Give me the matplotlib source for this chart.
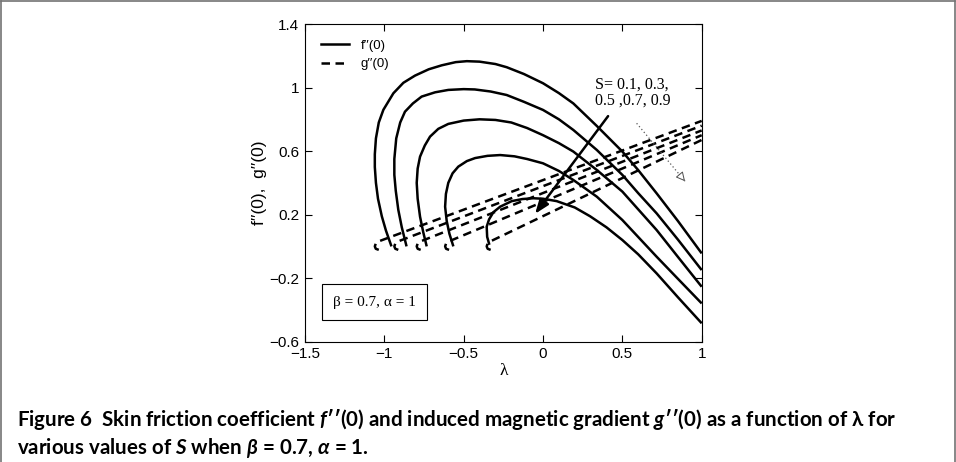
import matplotlib
matplotlib.use("Agg")
import matplotlib.pyplot as plt
from matplotlib.patches import Rectangle
from matplotlib.lines import Line2D

# ---------------- data ----------------
s_values = [0.1, 0.3, 0.5, 0.7, 0.9]

# f''(0) against lambda, traced from the lower branch end through the turning point
f_lam_01 = [-0.955, -0.990, -1.016, -1.040, -1.053, -1.060, -1.060, -1.053, -1.035, -1.006,
            -0.943, -0.880, -0.807, -0.720, -0.638, -0.550, -0.480, -0.400, -0.300, -0.229,
            -0.120, 0.000, 0.100, 0.191, 0.339, 0.500, 0.600, 0.716, 0.850, 1.000]
f_val_01 = [0.000, 0.100, 0.190, 0.300, 0.400, 0.500, 0.580, 0.680, 0.780, 0.860,
            0.964, 1.030, 1.075, 1.115, 1.140, 1.160, 1.166, 1.163, 1.148, 1.128,
            1.085, 1.027, 0.965, 0.900, 0.758, 0.597, 0.480, 0.334, 0.160, -0.044]

f_lam_03 = [-0.860, -0.890, -0.912, -0.928, -0.937, -0.937, -0.925, -0.900, -0.870, -0.820,
            -0.765, -0.680, -0.597, -0.500, -0.430, -0.330, -0.229, -0.120, 0.000, 0.100,
            0.191, 0.339, 0.500, 0.600, 0.716, 0.850, 1.000]
f_val_03 = [0.000, 0.120, 0.230, 0.350, 0.450, 0.550, 0.680, 0.780, 0.848, 0.900,
            0.943, 0.970, 0.985, 0.990, 0.988, 0.975, 0.953, 0.910, 0.859, 0.800,
            0.733, 0.607, 0.450, 0.335, 0.208, 0.043, -0.149]

f_lam_05 = [-0.733, -0.755, -0.775, -0.790, -0.796, -0.790, -0.775, -0.745, -0.712, -0.660,
            -0.597, -0.500, -0.400, -0.300, -0.200, -0.100, 0.000, 0.100, 0.191, 0.339,
            0.500, 0.600, 0.716, 0.850, 1.000]
f_val_05 = [0.000, 0.090, 0.187, 0.300, 0.400, 0.490, 0.565, 0.635, 0.691, 0.740,
            0.771, 0.792, 0.800, 0.796, 0.780, 0.745, 0.700, 0.650, 0.597, 0.481,
            0.345, 0.233, 0.103, -0.066, -0.254]

f_lam_07 = [-0.565, -0.590, -0.607, -0.617, -0.612, -0.597, -0.570, -0.534, -0.480, -0.428,
            -0.350, -0.270, -0.180, -0.100, 0.000, 0.100, 0.191, 0.339, 0.500, 0.600,
            0.716, 0.850, 1.000]
f_val_07 = [0.000, 0.080, 0.160, 0.250, 0.330, 0.400, 0.460, 0.502, 0.537, 0.556,
            0.570, 0.575, 0.567, 0.550, 0.523, 0.475, 0.418, 0.313, 0.166, 0.059,
            -0.065, -0.204, -0.359]

f_lam_09 = [-0.338, -0.352, -0.355, -0.340, -0.313, -0.270, -0.197, -0.130, -0.061, 0.000,
            0.086, 0.200, 0.296, 0.400, 0.500, 0.600, 0.716, 0.850, 1.000]
f_val_09 = [0.010, 0.060, 0.124, 0.170, 0.215, 0.250, 0.285, 0.298, 0.303, 0.300,
            0.285, 0.245, 0.190, 0.120, 0.040, -0.050, -0.170, -0.320, -0.484]

# g''(0) against lambda: small lower curl, turning point, then the upper branch
g_lam_01 = [-1.035, -1.054, -1.060, -1.054, -1.040, 1.000]
g_val_01 = [-0.022, -0.015, 0.000, 0.018, 0.030, 0.790]
g_lam_03 = [-0.912, -0.931, -0.937, -0.931, -0.917, 1.000]
g_val_03 = [-0.022, -0.015, 0.000, 0.018, 0.030, 0.760]
g_lam_05 = [-0.771, -0.790, -0.796, -0.790, -0.776, 1.000]
g_val_05 = [-0.022, -0.015, 0.000, 0.018, 0.030, 0.730]
g_lam_07 = [-0.592, -0.611, -0.617, -0.611, -0.597, 1.000]
g_val_07 = [-0.022, -0.015, 0.000, 0.018, 0.030, 0.700]
g_lam_09 = [-0.330, -0.349, -0.355, -0.349, -0.335, 1.000]
g_val_09 = [-0.022, -0.015, 0.000, 0.018, 0.030, 0.670]

f_curves = [(f_lam_01, f_val_01), (f_lam_03, f_val_03), (f_lam_05, f_val_05),
            (f_lam_07, f_val_07), (f_lam_09, f_val_09)]
g_curves = [(g_lam_01, g_val_01), (g_lam_03, g_val_03), (g_lam_05, g_val_05),
            (g_lam_07, g_val_07), (g_lam_09, g_val_09)]

# direction-of-increasing-S arrow and the dotted companion arrow
s_arrow_from = (0.41, 0.82)
s_arrow_to = (-0.05, 0.205)
dot_arrow_lam = [0.59, 0.895]
dot_arrow_val = [0.775, 0.41]

x_ticks = [-1.5, -1.0, -0.5, 0.0, 0.5, 1.0]
x_tick_labels = ["\u22121.5", "\u22121", "\u22120.5", "0", "0.5", "1"]
y_ticks = [-0.6, -0.2, 0.2, 0.6, 1.0, 1.4]
y_tick_labels = ["\u22120.6", "\u22120.2", "0.2", "0.6", "1", "1.4"]

s_label = "S= 0.1, 0.3,\n0.5 ,0.7, 0.9"
param_label = "\u03b2 = 0.7, \u03b1 = 1"
caption_1 = ("Figure 6  Skin friction coefficient $f$\u2032\u2032(0) and induced magnetic "
             "gradient $g$\u2032\u2032(0) as a function of \u03bb for")
caption_2 = "various values of $S$ when $\\beta$ = 0.7, $\\alpha$ = 1."

# ---------------- style ----------------
plt.rcParams["mathtext.fontset"] = "custom"
plt.rcParams["mathtext.rm"] = "Lato:bold"
plt.rcParams["mathtext.it"] = "Lato:italic:bold"
plt.rcParams["mathtext.bf"] = "Lato:bold"
SANS = ["Liberation Sans", "DejaVu Sans"]
SERIF = ["Liberation Serif", "DejaVu Serif"]

W, H = 956, 462
fig = plt.figure(figsize=(W / 100, H / 100), dpi=100)
ax = fig.add_axes([305 / W, 1 - 341.7 / H, 396.7 / W, 317.7 / H])

LW = 1.8
DASH = (0, (3.4, 2.2))
for lam, val in f_curves:
    ax.plot(lam, val, color="k", lw=LW, solid_capstyle="butt", solid_joinstyle="round")
for lam, val in g_curves:
    ax.plot(lam, val, color="k", lw=LW, linestyle=DASH, dash_capstyle="butt")

ax.set_xlim(-1.5, 1.0)
ax.set_ylim(-0.6, 1.4)
ax.set_xticks(x_ticks, labels=x_tick_labels)
ax.set_yticks(y_ticks, labels=y_tick_labels)
ax.tick_params(direction="in", length=5, width=0.8, top=True, right=True,
               labelsize=11, pad=4)
for lab in ax.get_xticklabels() + ax.get_yticklabels():
    lab.set_family(SANS)
for sp in ax.spines.values():
    sp.set_linewidth(0.8)

ax.set_xlabel("\u03bb", family=SERIF, fontsize=12.5, labelpad=1)
ax.set_ylabel("f\u2032\u2032(0),  g\u2032\u2032(0)", family=SANS, fontsize=12.5, labelpad=2)

# legend
handles = [Line2D([], [], color="k", lw=LW),
           Line2D([], [], color="k", lw=LW, linestyle=DASH)]
ax.legend(handles, ["f\u2032\u2032(0)", "g\u2032\u2032(0)"], loc="upper left",
          frameon=False, prop={"family": SANS, "size": 9.5}, handlelength=2.1,
          handletextpad=0.9, labelspacing=0.45, borderaxespad=0.8, borderpad=0.4)

# S annotation and arrows
ax.text(0.33, 1.07, s_label, family=SERIF, fontsize=11.5, ha="left", va="top",
        linespacing=1.0)
ax.annotate("", xy=s_arrow_to, xytext=s_arrow_from,
            arrowprops=dict(arrowstyle="-|>,head_length=0.85,head_width=0.32",
                            lw=LW, color="k", shrinkA=0, shrinkB=0))
ax.plot(dot_arrow_lam, dot_arrow_val, color="0.35", lw=0.9, linestyle=(0, (1, 2)))
head_from = (dot_arrow_lam[0] + 0.88 * (dot_arrow_lam[1] - dot_arrow_lam[0]),
             dot_arrow_val[0] + 0.88 * (dot_arrow_val[1] - dot_arrow_val[0]))
ax.annotate("", xy=(dot_arrow_lam[1], dot_arrow_val[1]), xytext=head_from,
            arrowprops=dict(arrowstyle="-|>,head_length=0.55,head_width=0.28",
                            lw=0.7, color="0.3", fc="white", shrinkA=0, shrinkB=0))

# parameter box
ax.add_patch(Rectangle((-1.391, -0.463), 0.662, 0.224, fill=False, lw=0.8, ec="k",
                       zorder=3))
ax.text(-1.06, -0.351, param_label, family=SERIF, fontsize=11, ha="center", va="center")

# caption, scaled to span the text block width
cap_kw = dict(family=["Lato", "DejaVu Sans"], fontweight="bold", ha="left",
              va="baseline")
t1 = fig.text(16.7 / W, 1 - 425.7 / H, caption_1, fontsize=14, **cap_kw)
t2 = fig.text(16.7 / W, 1 - 454.0 / H, caption_2, fontsize=14, **cap_kw)
fig.canvas.draw()
width = t1.get_window_extent(fig.canvas.get_renderer()).width
scale = 883.0 / width
t1.set_fontsize(14 * scale)
t2.set_fontsize(14 * scale)

# page frame
frame_kw = dict(transform=fig.transFigure, color="0.45", lw=1.2)
fig.add_artist(Line2D([0.6 / W, 0.6 / W], [0, 1 - 1.0 / H], **frame_kw))
fig.add_artist(Line2D([0.6 / W, 1 - 0.6 / W], [1 - 1.0 / H, 1 - 1.0 / H], **frame_kw))
fig.add_artist(Line2D([1 - 0.6 / W, 1 - 0.6 / W], [0, 1 - 1.0 / H], **frame_kw))

fig.savefig("out.png", dpi=100)
